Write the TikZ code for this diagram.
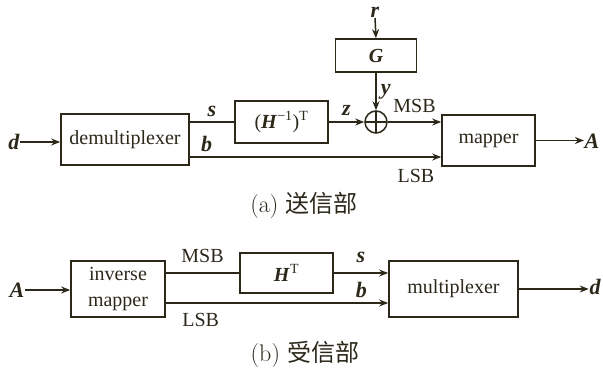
\documentclass[tikz,border=0pt]{standalone}
\usepackage{fontspec}
\newfontfamily\tnr{Liberation Serif}
\newfontfamily\cjk{Noto Sans CJK SC}
\usetikzlibrary{arrows.meta}
\definecolor{ink}{RGB}{43,40,26}

\begin{document}
\begin{tikzpicture}[x=1pt, y=-1pt, color=ink, line width=1.5pt,
    >={Stealth[length=9pt, width=7pt]},
    blk/.style={draw, line width=1.6pt, inner sep=0pt, font=\tnr\fontsize{20}{26}\selectfont},
    var/.style={inner sep=0pt, font=\tnr\fontsize{22}{24}\selectfont\bfseries\itshape},
    bit/.style={inner sep=0pt, font=\tnr\fontsize{20}{22}\selectfont},
    captext/.style={inner sep=0pt, font=\fontsize{24}{28}\selectfont}]
      \useasboundingbox (0,0) rectangle (603,372);

      \node[blk, minimum width=128, minimum height=51] (demux) at (125,139.5) {demultiplexer};
      \node[blk, minimum width=93, minimum height=42] (hinv) at (281.5,122) {(\textbf{\textit{H}}\textsuperscript{−1})\textsuperscript{T}};
      \node[blk, minimum width=81, minimum height=33] (gmat) at (376,55.5) {\textbf{\textit{G}}};
      \node[draw, circle, minimum size=22, inner sep=0pt, line width=1.5pt,
            path picture={\draw[line width=1.5pt] (path picture bounding box.north) -- (path picture bounding box.south)
                                                  (path picture bounding box.west) -- (path picture bounding box.east);}] (sum) at (376,122) {};
      \node[blk, minimum width=93, minimum height=51] (mapper) at (488.5,140.5) {mapper};
      \node[var] (din) at (14,142) {d};
      \node[var] (aout) at (592,141) {A};
      \node[var] (rin) at (375,12) {r};
      \coordinate (bsrc) at (189,157);

      \draw[->] (din.east) -- (din.east -| demux.west);
      \draw (demux.east |- hinv.west) -- (hinv.west) node[var, midway, above=5pt] {s};
      \draw[->] (hinv.east) -- (sum.west) node[var, midway, above=6pt] {z};
      \draw[->] (rin.south) -- (gmat.north);
      \draw[->] (gmat.south) -- (sum.north) node[var, midway, right=4pt] {y};
      \draw[->] (sum.east) -- (sum.east -| mapper.west) node[bit, midway, above=9pt] {MSB};
      \draw[->] (bsrc) -- (bsrc -| mapper.west) node[var, pos=0.07, above=5pt] {b}
                                                node[bit, pos=0.9, below=12pt] {LSB};
      \draw[->] (mapper.east) -- (mapper.east -| aout.west);
      \node[captext] (capa) at (304,205) {(a) {\cjk 送信部}};

      \node[blk, minimum width=94, minimum height=56, align=center] (invmap) at (118,289) {inverse\\mapper};
      \node[blk, minimum width=93, minimum height=40] (ht) at (286.5,273) {\textbf{\textit{H}}\textsuperscript{T}};
      \node[blk, minimum width=129, minimum height=56] (mux) at (453.5,289) {multiplexer};
      \node[var] (ain) at (17,290) {A};
      \node[var] (dout) at (595,287) {d};
      \coordinate (lsrc) at (165,303);

      \draw[->] (ain.east) -- (ain.east -| invmap.west);
      \draw (invmap.east |- ht.west) -- (ht.west) node[bit, midway, above=10pt] {MSB};
      \draw[->] (ht.east) -- (ht.east -| mux.west) node[var, midway, above=10pt] {s};
      \draw[->] (lsrc) -- (lsrc -| mux.west) node[bit, pos=0.16, below=10pt] {LSB}
                                              node[var, pos=0.88, above=5pt] {b};
      \draw[->] (mux.east) -- (mux.east -| dout.west);
      \node[captext] (capb) at (305,354) {(b) {\cjk 受信部}};
    \end{tikzpicture}
\end{document}
